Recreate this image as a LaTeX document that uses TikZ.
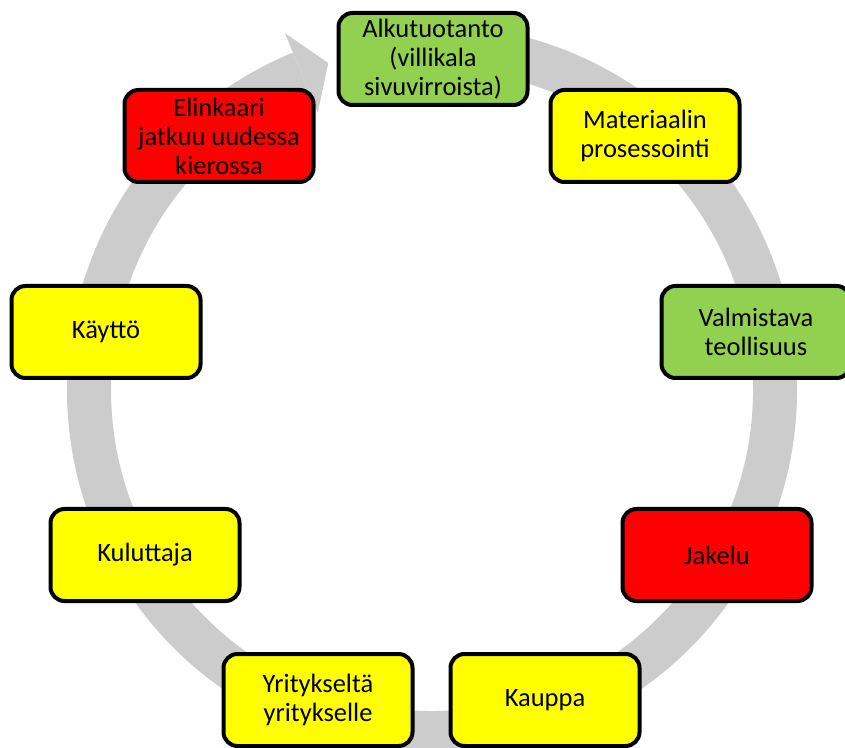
\documentclass[tikz,border=0pt]{standalone}
\usepackage{fontspec}
\setmainfont{Carlito}
\usetikzlibrary{calc}
\definecolor{boxgreen}{HTML}{92D050}
\definecolor{boxyellow}{HTML}{FFFF00}
\definecolor{boxred}{HTML}{FF0000}
\definecolor{ringgray}{HTML}{CCCCCC}
\begin{document}
\begin{tikzpicture}[x=1pt,y=1pt,
  box/.style={draw=black, line width=4pt, rounded corners=14pt,
    minimum width=189pt, minimum height=92pt, align=center,
    inner sep=2pt, font=\fontsize{26.5}{29}\selectfont},
  gbox/.style={box, fill=boxgreen},
  ybox/.style={box, fill=boxyellow},
  rbox/.style={box, fill=boxred},
  ring/.style={draw=ringgray, line width=44pt}]
\useasboundingbox (0,0) rectangle (845,747);
\coordinate (c) at (432,357);
% ring with arrow head
\draw[ring] ($(c)+(95:343pt)$) arc[start angle=95, end angle=-247.6, radius=343pt];
\fill[ringgray] ($(c)+(112.4:300pt)$) -- ($(c)+(112.4:386pt)$) -- ($(c)+(107.6:343pt)$) -- cycle;
% boxes
\node[gbox] (A)  at (433,688) {Alkutuotanto\\(villikala\\sivuvirroista)};
\node[ybox] (M)  at (645,611) {Materiaalin\\prosessointi};
\node[gbox] (V)  at (756,415) {Valmistava\\teollisuus};
\node[rbox] (J)  at (717,192) {Jakelu};
\node[ybox] (K)  at (545,47)  {Kauppa};
\node[ybox] (Y)  at (318,47)  {Yritykseltä\\yritykselle};
\node[ybox] (Ku) at (145,192) {Kuluttaja};
\node[ybox] (Ka) at (106,415) {Käyttö};
\node[rbox] (E)  at (219,611) {Elinkaari\\jatkuu uudessa\\kierossa};
\end{tikzpicture}
\end{document}
